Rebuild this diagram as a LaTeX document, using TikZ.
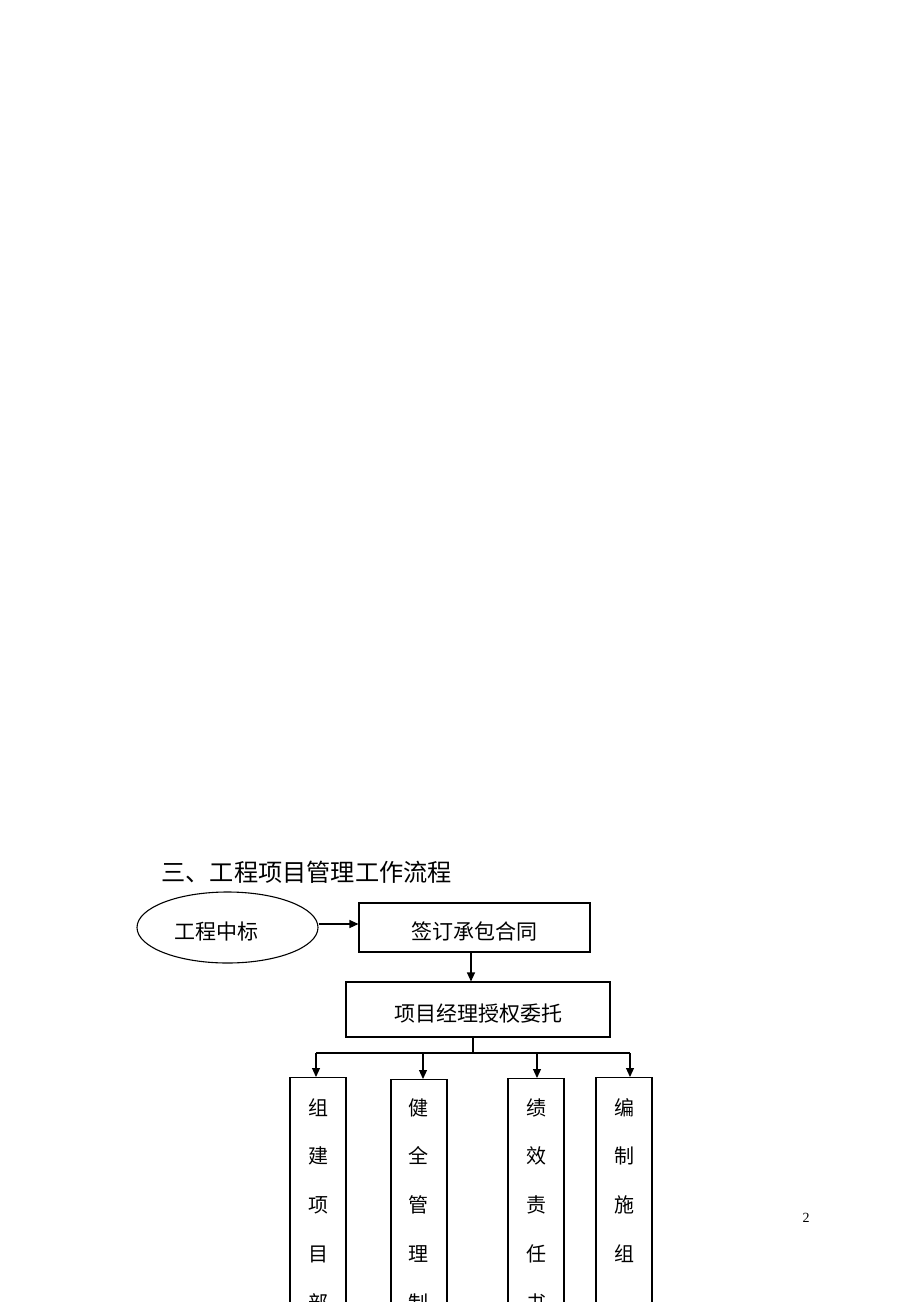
\documentclass[tikz,border=0pt]{standalone}
\usepackage{fontspec}
\setmainfont{Liberation Serif}
\newfontfamily\cjk{Noto Sans CJK SC}
\usetikzlibrary{arrows.meta,shapes.geometric}
\begin{document}
\begin{tikzpicture}[x=1pt,y=-1pt,
  line width=1.1pt,
  arr/.style={-{Triangle[length=9pt,width=8pt]}},
  hbox/.style={draw,rectangle,inner sep=0pt,font=\cjk\fontsize{21}{21}\selectfont,text height=23pt,text depth=0pt},
  vbox/.style={draw,rectangle,inner sep=0pt,minimum width=56pt,minimum height=240pt,anchor=north},
  vtext/.style={anchor=base,align=center,inner sep=0pt,font=\cjk\fontsize{20}{48.8}\selectfont}]
\useasboundingbox (0,0) rectangle (920,1302);
% title
\node[anchor=base west,inner sep=0pt,font=\cjk\fontsize{24.2}{24.2}\selectfont] (title) at (161,881) {三、工程项目管理工作流程};
% ellipse
\node[draw,ellipse,inner sep=0pt,minimum width=181pt,minimum height=71pt,font=\cjk\fontsize{21}{21}\selectfont,text height=23pt,text depth=0pt] (E) at (227.5,927.5) {工程中标\hspace*{22pt}};
% boxes
\node[hbox,minimum width=231pt,minimum height=49pt] (P1) at (474.5,927.5) {签订承包合同};
\node[hbox,minimum width=264pt,minimum height=55pt] (P2) at (478,1009.5) {项目经理授权委托};
\draw[arr] ([yshift=3.5pt]E.east) -- ([yshift=3.5pt]P1.west);
\coordinate (v1) at (471,960);
\draw[arr] (v1 |- P1.south) -- (v1 |- P2.north);
% bus
\coordinate (bT) at (473,1053);
\coordinate (bA) at (316,1053);
\coordinate (bB) at (423,1053);
\coordinate (bC) at (537,1053);
\coordinate (bD) at (630,1053);
\draw (bT |- P2.south) -- (bT);
\draw (bA) -- (bD);
% vertical boxes
\node[vbox] (A) at (318,1077) {};
\node[vbox] (B) at (419,1079) {};
\node[vbox] (C) at (536,1078) {};
\node[vbox] (D) at (624,1077) {};
\draw[arr] (bA) -- (bA |- A.north);
\draw[arr] (bB) -- (bB |- B.north);
\draw[arr] (bC) -- (bC |- C.north);
\draw[arr] (bD) -- (bD |- D.north);
\node[vtext] (tA) at (318,1310.2) {组\\建\\项\\目\\部};
\node[vtext] (tB) at (418,1310.2) {健\\全\\管\\理\\制};
\node[vtext] (tC) at (536,1310.2) {绩\\效\\责\\任\\书};
\node[vtext] (tD) at (624,1261.4) {编\\制\\施\\组};
% page number
\node[anchor=base,inner sep=0pt,font=\fontsize{14}{14}\selectfont] (pn) at (806,1222) {2};
\end{tikzpicture}
\end{document}
